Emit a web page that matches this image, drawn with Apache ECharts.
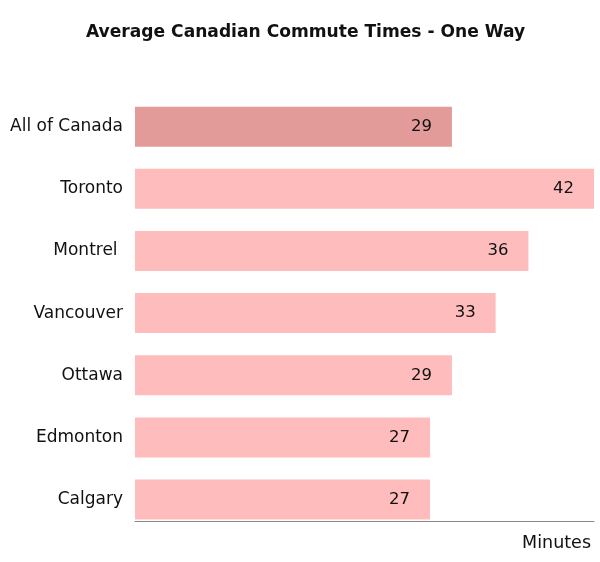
<!DOCTYPE html>
<html>
<head>
<meta charset="utf-8">
<script src="https://cdn.jsdelivr.net/npm/echarts@6/dist/echarts.min.js"></script>
<style>html,body{margin:0;padding:0;background:#fff}#c{width:600px;height:562px}</style>
</head>
<body>
<div id="c"></div>
<script>
const categories = ['All of Canada', 'Toronto', 'Montrel ', 'Vancouver', 'Ottawa', 'Edmonton', 'Calgary'];
const values = [29, 42, 36, 33, 29, 27, 27];
const highlightIndex = 0;

const FONT = 'DejaVu Sans';
const chart = echarts.init(document.getElementById('c'), null, {renderer: 'canvas'});
chart.setOption({
  backgroundColor: '#ffffff',
  animation: false,
  title: [
    {text: 'Average Canadian Commute Times - One Way', left: 81, top: 19,
     textStyle: {fontFamily: FONT, fontSize: 17.1, fontWeight: 'bold', color: '#111'}},
    {text: 'Minutes', right: 4, top: 529,
     textStyle: {fontFamily: FONT, fontSize: 17.5, fontWeight: 'normal', color: '#111'}}
  ],
  grid: {left: 135, right: 6, top: 95.6, bottom: 31.4, containLabel: false},
  xAxis: {
    type: 'value', min: 0, max: 42,
    offset: -9.6,
    axisLine: {show: true, lineStyle: {color: '#888', width: 1}},
    axisTick: {show: false}, axisLabel: {show: false}, splitLine: {show: false}
  },
  yAxis: {
    type: 'category', data: categories, inverse: true,
    axisLine: {show: false}, axisTick: {show: false},
    axisLabel: {margin: 12, fontFamily: FONT, fontSize: 17, color: '#111'}
  },
  series: [{
    type: 'bar',
    data: values.map((v, i) => ({value: v, itemStyle: {color: i === highlightIndex ? '#E29B98' : '#FFBCBC'}})),
    barWidth: 40,
    label: {show: true, position: 'insideRight', distance: 20, fontFamily: FONT, fontSize: 16.5, color: '#111'}
  }]
});
</script>
</body>
</html>
